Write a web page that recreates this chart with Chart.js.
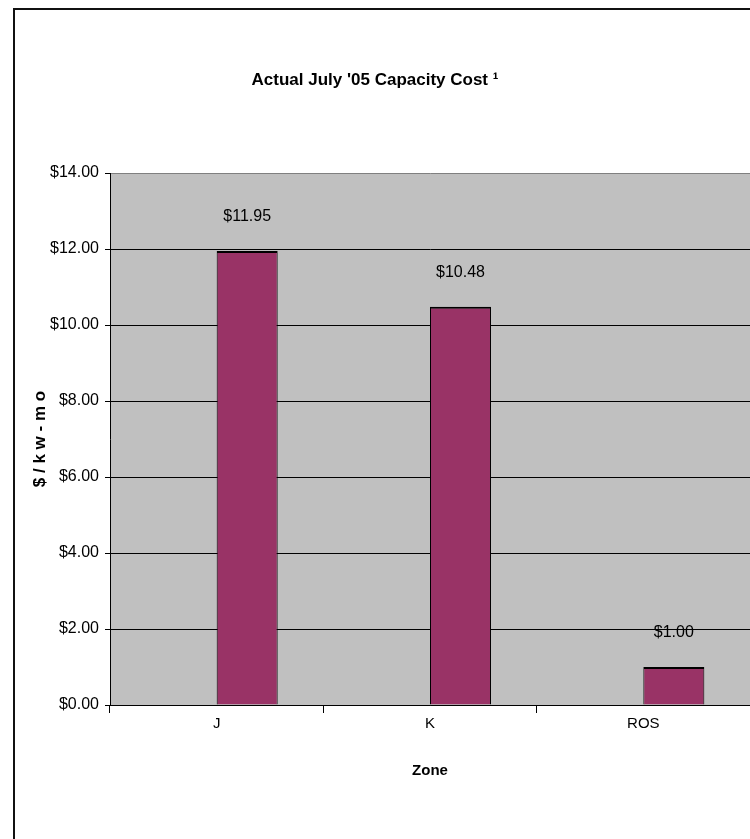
<!DOCTYPE html>
<html>
<head>
<meta charset="utf-8">
<title>Actual July '05 Capacity Cost</title>
<script src="https://cdn.jsdelivr.net/npm/chart.js@4.4.1/dist/chart.umd.min.js"></script>
<style>
  html, body { margin: 0; padding: 0; background: #fff; }
  canvas { display: block; }
</style>
</head>
<body>
<canvas id="chart" width="750" height="839"></canvas>
<script>
// Zones and their July '05 capacity cost ($ / kW-month)
const zones = ['J', 'K', 'ROS'];
const capacityCost = [11.95, 10.48, 1.00];
// Placeholder series that holds the first slot of each bar group
const leadingSeries = [null, null, null];
// Value-axis ticks
const yTickValues = [0, 2, 4, 6, 8, 10, 12, 14];

const FONT = "'Liberation Sans Narrow', 'Arial Narrow', 'Liberation Sans', Arial, sans-serif";
const money = v => '$' + Number(v).toFixed(2);

// White page, outer frame and grey plot background
const backdrop = {
  id: 'backdrop',
  beforeDraw(chart) {
    const { ctx, chartArea: a } = chart;
    ctx.save();
    ctx.fillStyle = '#ffffff';
    ctx.fillRect(0, 0, chart.width, chart.height);
    ctx.strokeStyle = '#111';
    ctx.lineWidth = 2;
    ctx.strokeRect(14, 9, chart.width + 20, chart.height + 20);
    ctx.fillStyle = '#C0C0C0';
    ctx.fillRect(a.left, a.top, a.right - a.left, a.bottom - a.top);
    ctx.restore();
  }
};

// Value labels above each bar
const valueLabels = {
  id: 'valueLabels',
  afterDatasetsDraw(chart) {
    const { ctx } = chart;
    const meta = chart.getDatasetMeta(1);
    ctx.save();
    ctx.fillStyle = '#000';
    ctx.font = '16px ' + FONT;
    ctx.textAlign = 'center';
    ctx.textBaseline = 'middle';
    meta.data.forEach((bar, i) => {
      const v = chart.data.datasets[1].data[i];
      if (v == null) return;
      ctx.fillText(money(v), bar.x, bar.y - 34);
    });
    ctx.restore();
  }
};

new Chart(document.getElementById('chart'), {
  type: 'bar',
  data: {
    labels: zones,
    datasets: [
      { label: '', data: leadingSeries, backgroundColor: '#9999FF' },
      {
        label: 'Capacity Cost',
        data: capacityCost,
        backgroundColor: '#993366',
        borderColor: '#000',
        borderWidth: { top: 2, left: 1, right: 1, bottom: 0 },
        borderSkipped: false
      }
    ]
  },
  options: {
    responsive: false,
    animation: false,
    devicePixelRatio: 1,
    categoryPercentage: 0.572,
    barPercentage: 1,
    layout: { padding: { top: 0, left: 0, right: 0, bottom: 0 } },
    plugins: {
      legend: { display: false },
      tooltip: { enabled: false },
      title: {
        display: true,
        text: "Actual July '05 Capacity Cost \u00B9",
        color: '#000',
        font: { family: FONT, size: 17, weight: 'bold', lineHeight: 1.2 },
        padding: { top: 70, bottom: 82.6 }
      }
    },
    scales: {
      x: {
        grid: {
          display: true,
          offset: true,
          drawOnChartArea: false,
          drawTicks: true,
          tickLength: 8,
          color: '#000'
        },
        border: { display: true, color: '#000', width: 1 },
        ticks: {
          color: '#000',
          padding: 2,
          font: { family: FONT, size: 15 }
        },
        title: {
          display: true,
          text: 'Zone',
          color: '#000',
          font: { family: FONT, size: 15, weight: 'bold', lineHeight: 1.2 },
          padding: { top: 0, bottom: 59 }
        },
        afterFit(scale) { scale.height = 134; }
      },
      y: {
        min: 0,
        max: 14,
        afterBuildTicks(scale) {
          scale.ticks = yTickValues.map(v => ({ value: v }));
        },
        grid: {
          color: ctx => (ctx.tick && ctx.tick.value === 14 ? '#808080' : '#000'),
          lineWidth: 1,
          drawTicks: true,
          tickLength: 5,
          tickColor: '#000'
        },
        border: { display: true, color: '#000', width: 1 },
        ticks: {
          color: '#000',
          padding: 6,
          font: { family: FONT, size: 16 },
          callback: v => money(v)
        },
        title: {
          display: true,
          text: '$ / k w - m o',
          color: '#000',
          font: { family: FONT, size: 17, weight: 'bold', lineHeight: 1.2 },
          padding: { top: 30, bottom: 0 }
        },
        afterFit(scale) { scale.width = 110; }
      }
    }
  },
  plugins: [backdrop, valueLabels]
});
</script>
</body>
</html>
